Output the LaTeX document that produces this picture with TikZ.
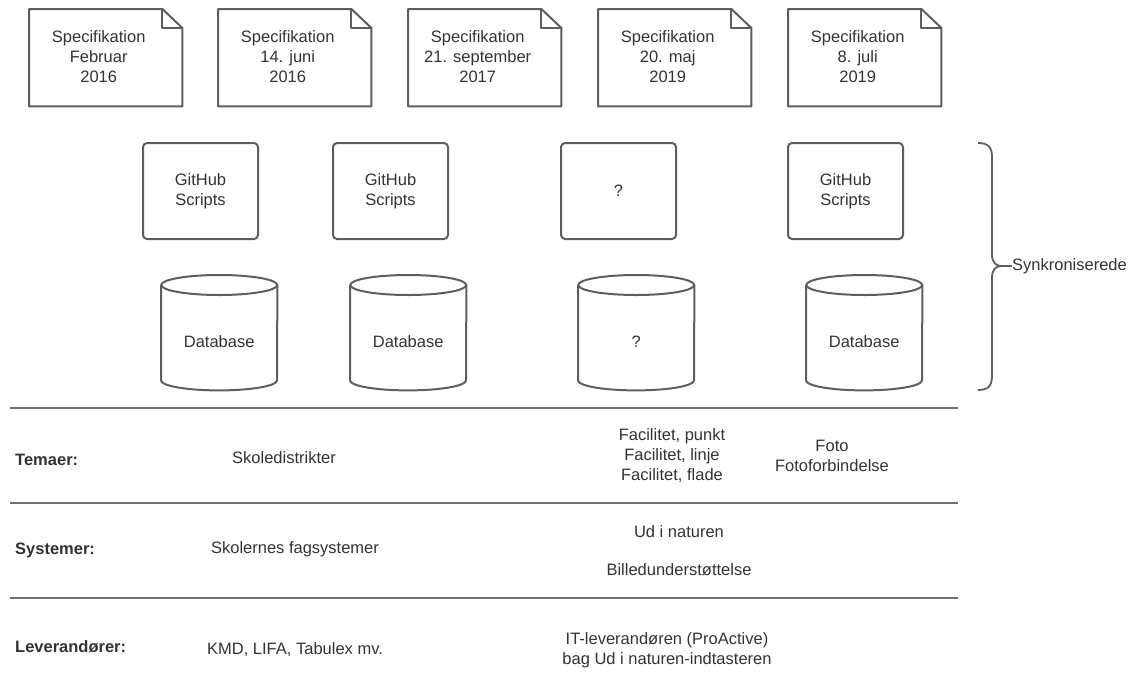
\documentclass[tikz,border=0pt]{standalone}
\usepackage{fontspec}
\setmainfont{Liberation Sans}
\definecolor{txt}{HTML}{333333}
\definecolor{ln}{HTML}{5E5E5E}
\definecolor{rule}{HTML}{707070}
\begin{document}
\begin{tikzpicture}[x=1pt,y=-1pt,
  every node/.style={text=txt,font=\fontsize{16.5}{20}\selectfont,align=center,inner sep=0pt},
  outline/.style={draw=ln,line width=2pt,line join=round},
  rowrule/.style={draw=rule,line width=1.6pt},
  lab/.style={anchor=west,font=\fontsize{16.5}{20}\selectfont\bfseries},
  docbox/.style={minimum width=153pt,minimum height=97pt},
  ghbox/.style={outline,rounded corners=4pt,minimum width=115pt,minimum height=96pt},
  dbbox/.style={minimum width=116pt,minimum height=115pt}]
\useasboundingbox (0,0) rectangle (1133,689);
% document boxes
\foreach \n/\x/\t in {d1/29/{Specifikation\\Februar\\2016},
                       d2/218/{Specifikation\\14. juni\\2016},
                       d3/408/{Specifikation\\21. september\\2017},
                       d4/598/{Specifikation\\20. maj\\2019},
                       d5/788/{Specifikation\\8. juli\\2019}}{
  \node[docbox,anchor=north west] (\n) at (\x,9) {};
  \draw[outline] (\n.north west) -- ([xshift=-20pt]\n.north east) -- ([yshift=-19pt]\n.north east) -- (\n.south east) -- (\n.south west) -- cycle;
  \draw[outline] ([xshift=-20pt]\n.north east) -- ([xshift=-20pt,yshift=-19pt]\n.north east) -- ([yshift=-19pt]\n.north east);
  \node (\n t) at ([xshift=-7pt,yshift=1pt]\n.center) {\t};
}
% GitHub boxes
\node[ghbox,anchor=north west] (g1) at (142,142) {GitHub\\[-0.5pt]Scripts};
\node[ghbox,anchor=north west] (g2) at (332,142) {GitHub\\[-0.5pt]Scripts};
\node[ghbox,anchor=north west] (g3) at (560,142) {?};
\node[ghbox,anchor=north west] (g4) at (787,142) {GitHub\\[-0.5pt]Scripts};
% databases
\foreach \n/\x/\t in {c1/161/Database,c2/350/Database,c3/578/?,c4/806/Database}{
  \node[dbbox,anchor=north west] (\n) at (\x,275) {};
  \draw[outline] ([yshift=-10pt]\n.north west) -- ([yshift=10pt]\n.south west)
     arc (180:0:58 and 10) -- ([yshift=-10pt]\n.north east);
  \draw[outline] ([yshift=-10pt]\n.north) ellipse (58 and 10);
  \node (\n t) at ([yshift=-9pt]\n.center) {\t};
}
% brace
\node[anchor=west] (sync) at (1012,266) {Synkroniserede};
\draw[outline,line width=1.8pt] (978,143) .. controls (988,143) and (992,147) .. (992,157) -- (992,254)
  .. controls (992,262) and (995,266) .. (1002,266) -- (sync.west);
\draw[outline,line width=1.8pt] (1002,266) .. controls (995,266) and (992,270) .. (992,278) -- (992,376)
  .. controls (992,386) and (988,390) .. (978,390);
% rules
\coordinate (r1a) at (10,408); \coordinate (r1b) at (958,408);
\coordinate (r2a) at (10,503); \coordinate (r2b) at (958,503);
\coordinate (r3a) at (10,598); \coordinate (r3b) at (958,598);
\draw[rowrule] (r1a) -- (r1b);
\draw[rowrule] (r2a) -- (r2b);
\draw[rowrule] (r3a) -- (r3b);
% rows
\node[lab] (tem) at (15,460) {Temaer:};
\node[lab] (sys) at (15,550) {Systemer:};
\node[lab] (lev) at (15,647) {Leverandører:};
\node (skd) at (284,458) {Skoledistrikter};
\node (fac) at (672,456) {Facilitet, punkt\\Facilitet, linje\\Facilitet, flade};
\node (foto) at (832,456) {Foto\\Fotoforbindelse};
\node (skf) at (295,549) {Skolernes fagsystemer};
\node (udi) at (679,532) {Ud i naturen};
\node (bil) at (679,570) {Billedunderstøttelse};
\node (kmd) at (295,650) {KMD, LIFA, Tabulex mv.};
\node (itl) at (667,650) {IT-leverandøren (ProActive)\\bag Ud i naturen-indtasteren};
\end{tikzpicture}
\end{document}
